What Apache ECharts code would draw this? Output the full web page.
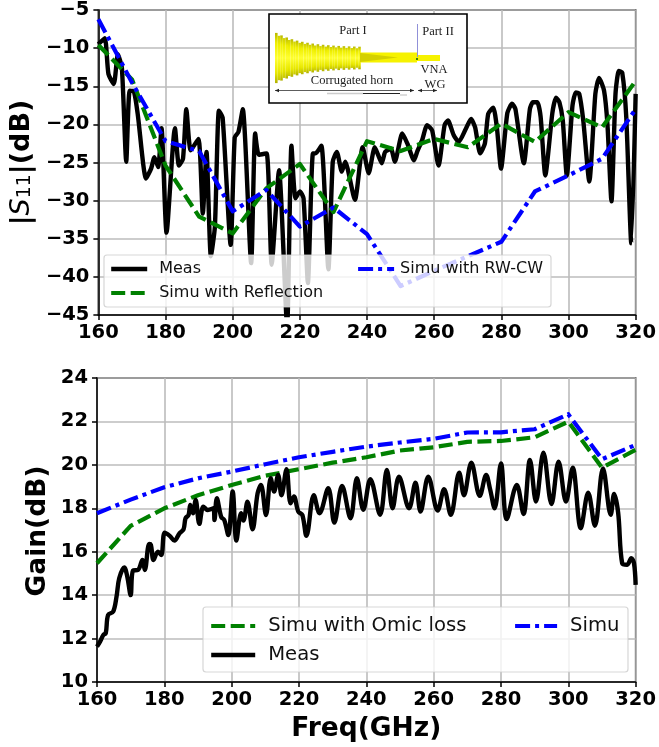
<!DOCTYPE html>
<html><head><meta charset="utf-8">
<style>html,body{margin:0;padding:0;background:#fff}#c{width:659px;height:747px}</style>
<script src="https://cdn.jsdelivr.net/npm/echarts@6/dist/echarts.min.js"></script></head>
<body><div id="c"></div>
<script>
const xTicks = [160,180,200,220,240,260,280,300,320];
const simFreq = [160,170,180,190,200,210,220,230,240,250,260,270,280,290,300,310,320];
const s11Reflection = [-9.6,-14.1,-25.4,-32.1,-34.3,-28.4,-25.2,-31.5,-22.2,-23.5,-21.9,-23,-19.9,-22.3,-18.4,-20.4,-14.3];
const s11RwCw = [-6.2,-14.5,-22.2,-23.5,-31.4,-28.6,-33.4,-30.9,-34.4,-41.2,-39.2,-37.3,-35.4,-28.8,-26.7,-24.5,-18];
const s11MeasFreq = [160,161.9,163,164.6,165.8,167,168.3,169.3,170.4,171.7,174.2,175.7,176.7,177.8,178.8,180.3,182.8,184,185.2,186.2,187.5,189.8,191.1,192.2,193.5,194.7,195.9,197,199.4,200.6,201.7,203,205.5,206.7,207.8,210.1,211.6,213.8,216.2,217.5,218.7,220,221.1,222.4,223.9,224.7,226.4,228.5,229.8,231,232.5,233.5,236.4,238.7,240.5,242.3,243.3,244.4,245.4,247.1,248.3,250.5,252,254,255,256.4,257.9,259.4,261.3,263.1,264.1,265.8,267.3,269.4,271,272.2,273.7,275.1,276.1,277.6,278.7,279.9,281.8,283.2,284.2,286.7,288.5,289.4,290.7,291.7,293.1,295.2,296.3,297.3,298.3,299.5,301.2,302.2,303.2,304.4,306.2,308,309.1,310.6,311.6,312.8,314,315,316,317.2,318.7,320];
const s11Meas = [-9.5,-8.7,-13.4,-14.7,-10.8,-12.6,-24.9,-15.6,-15.6,-18.6,-27.1,-25.8,-24.3,-25.6,-20.5,-34.2,-20.5,-25.4,-24.5,-18,-23.4,-21.9,-31.7,-23.6,-37.3,-33.4,-18.2,-19.1,-35.8,-21.7,-21,-18,-38.2,-21.2,-24,-23.8,-38.4,-26,-46.5,-22.8,-29.7,-28.8,-29.7,-40.8,-23.8,-23.8,-22.8,-39,-24.9,-23.6,-26.2,-24.9,-29.9,-23,-26.4,-23,-24,-25.1,-23.6,-23.2,-24.9,-21.2,-22.5,-24.7,-23.5,-22.1,-20.1,-20.8,-25.4,-20.1,-19.5,-21.4,-22.3,-20.6,-19.3,-20.4,-23.8,-22.5,-18.6,-17.8,-20.5,-25.8,-18.5,-17.3,-18,-25.1,-18,-17.1,-17.1,-19,-26.7,-18.5,-16.5,-17.1,-19.5,-26.7,-17.5,-15.8,-16,-19.5,-27.5,-16,-13.9,-15.6,-20,-30.1,-16,-13,-13.2,-19,-35.6,-16];
const gainOhmic = [15.47,17.19,18,18.6,19.07,19.5,19.8,20.1,20.35,20.66,20.81,21.06,21.1,21.27,21.99,19.87,20.69];
const gainSimu = [17.77,18.4,18.97,19.38,19.69,20.03,20.35,20.6,20.84,21.03,21.2,21.49,21.5,21.64,22.33,20.26,20.92];
const gainMeasFreq = [160,160.9,161.9,162.6,163.3,164.8,165.8,166.6,168.1,169,170,170.7,172.2,173.5,174.2,175.5,176,176.8,178.1,179.1,180.1,181.6,183,184.5,185.7,186.3,187.2,187.7,188.5,189.3,190.4,191.6,192.9,194.6,194.9,195.6,196.9,197.8,199,200.3,201.4,202.8,203.5,204.7,206.2,207.7,208.7,210.2,211.6,212.6,213.8,214.8,216.3,217.5,218.5,219.8,221,222.2,224.4,226.1,228.7,230.5,232.8,235.3,237.2,239.1,241.2,244.1,246.1,247.8,249.7,252.7,254.6,256.1,258.4,261.2,263.1,265.1,267.6,269,271.2,273.7,275.6,276.8,278.1,280,281.7,284.7,286.7,288.6,290.4,292.6,295,297.1,299.3,301.3,303.7,305.9,307.9,310.3,312.6,313.6,314.8,316,317.5,318.7,319.5,320];
const gainMeas = [11.63,11.86,12.17,12.25,13.09,13.24,13.93,14.78,15.28,14.85,14,15.13,15.16,15.62,15.16,16.36,16.32,15.62,16,15.85,16.88,16.73,16.51,16.85,17.03,17.54,17.69,18.15,17.77,18.38,17.28,18.07,17.92,18,17.46,18.46,17.6,17.46,16.77,18.77,16.51,17.77,17.43,18.3,17.03,18.69,19.07,17.69,19.38,18.77,19.53,18.6,19.8,18.23,18.54,17.85,17.69,16.73,18.6,17.77,18.92,17.34,19.03,17.54,19.38,17.93,19.34,17.7,19.77,18,19.46,18,19.18,17.85,19.46,17.9,18.88,17.7,19.64,18.6,20.1,18.57,19.54,18.85,18,20.07,17.5,19.08,17.74,20.23,18.31,20.56,18.2,20.15,18.31,19.87,17.08,18.72,17.19,19.84,17.7,18.66,17.8,15.47,15.4,15.7,15.47,14.47];

const zip = (xs, ys) => xs.map((x, i) => [x, ys[i]]);
const GREEN='#008000', BLUE='#0000ff', BLK='#000';
const bold = {fontFamily:'DejaVu Sans', fontWeight:'bold', fontSize:19.5, color:'#000'};
const gridLine = {show:true, lineStyle:{color:'#bcbcbc', width:1.6}};
const axisBits = {
  axisLine:{show:true, onZero:false, lineStyle:{color:'#000', width:1.5}},
  axisTick:{show:true, length:5, lineStyle:{color:'#000', width:1.5}},
  splitLine:gridLine
};
const xAxis = (gridIndex, extra) => Object.assign({
  type:'value', gridIndex, min:160, max:320, interval:20,
  axisLabel:Object.assign({margin:8, showMinLabel:true, showMaxLabel:true, hideOverlap:false}, bold)
}, axisBits, extra||{});
const yFmt = v => String(v).replace('-', '\u2212');
const line = (name, xi, data, color, width, dash, smooth) => ({
  name, type:'line', xAxisIndex:xi, yAxisIndex:xi, data, symbol:'none', showSymbol:false, clip:true,
  smooth:smooth||false,
  lineStyle:{color, width, type:dash||'solid', cap:'butt', join:'round'},
  itemStyle:{color}, animation:false
});
const dashed=[14,5.5], dashdot=[15,5,4,5];
const legendText = (size,pad) => ({fontFamily:'DejaVu Sans', fontSize:size, color:'#111', padding:[0,0,0,pad]});
const legendBase = {orient:'vertical', selectedMode:false, z:6, padding:[0,0,0,5], itemStyle:{opacity:0, color:'transparent', borderWidth:0}};
const styled = (name,color,width,type) => ({name, lineStyle:{color,width,type,cap:'butt',opacity:1}});

const opt = {
  animation:false,
  backgroundColor:'#fff',
  grid:[
    {left:97, right:21, top:9, height:306, show:true, borderColor:'#000', borderWidth:1.5, backgroundColor:'transparent'},
    {left:97, right:21, top:378, height:304, show:true, borderColor:'#000', borderWidth:1.5, backgroundColor:'transparent'}
  ],
  xAxis:[
    xAxis(0),
    xAxis(1,{name:'Freq(GHz)', nameLocation:'middle', nameGap:34, nameTextStyle:{fontFamily:'DejaVu Sans',fontWeight:'bold',fontSize:26.5,color:'#000'}})
  ],
  yAxis:[
    Object.assign({type:'value', gridIndex:0, min:-45, max:-5, interval:5,
      axisLabel:Object.assign({margin:9, formatter:yFmt, showMinLabel:true, showMaxLabel:true}, bold),
      name:'{a||}{b|S}{c|11}{a||(dB)}', nameLocation:'middle', nameRotate:90, nameGap:62,
      nameTextStyle:{rich:{
        a:{fontFamily:'DejaVu Sans',fontWeight:'bold',fontSize:27,color:'#000'},
        b:{fontFamily:'DejaVu Sans',fontStyle:'italic',fontSize:27,color:'#000'},
        c:{fontFamily:'DejaVu Sans',fontSize:19,color:'#000',verticalAlign:'bottom',lineHeight:24}
      }}
    }, axisBits),
    Object.assign({type:'value', gridIndex:1, min:10, max:24, interval:2,
      axisLabel:Object.assign({margin:9, showMinLabel:true, showMaxLabel:true}, bold)
    }, axisBits)
  ],
  legend:[
    Object.assign({},legendBase,{left:104, top:261, itemWidth:36, itemHeight:14, itemGap:8, textStyle:legendText(16,7),
      data:[styled('Meas',BLK,4.4,'solid'),styled('Simu with Reflection',GREEN,4.2,dashed)]}),
    Object.assign({},legendBase,{left:351, top:261, itemWidth:36, itemHeight:14, textStyle:legendText(16,1),
      data:[styled('Simu with RW-CW',BLUE,4.2,dashdot)]}),
    Object.assign({},legendBase,{left:204, top:616, itemWidth:44, itemHeight:16, itemGap:9, textStyle:legendText(19.6,8),
      data:[styled('Simu with Omic loss',GREEN,4.2,dashed),styled('Meas',BLK,4.4,'solid')]}),
    Object.assign({},legendBase,{left:508, top:616, itemWidth:42, itemHeight:16, textStyle:legendText(19.6,8),
      data:[styled('Simu',BLUE,4.2,dashdot)]})
  ],
  series:[
    line('Meas',0,zip(s11MeasFreq,s11Meas),BLK,4.4,null,0.2),
    line('Simu with Reflection',0,zip(simFreq,s11Reflection),GREEN,4.2,dashed),
    line('Simu with RW-CW',0,zip(simFreq,s11RwCw),BLUE,4.2,dashdot),
    line('Simu with Omic loss',1,zip(simFreq,gainOhmic),GREEN,4.2,dashed),
    line('Meas',1,zip(gainMeasFreq,gainMeas),BLK,4.4,null,0.35),
    line('Simu',1,zip(simFreq,gainSimu),BLUE,4.2,dashdot)
  ],
  graphic:[]
};

/* y title of the lower panel */
opt.graphic.push({type:'text', z:6, x:38, y:531, rotation:Math.PI/2,
  style:{text:'Gain(dB)', fontFamily:'DejaVu Sans', fontWeight:'bold', fontSize:26.5, fill:'#000', textAlign:'center', textVerticalAlign:'middle'}});

/* legend frames */
const frame = (x,y,w,h) => ({type:'rect', z:5, shape:{x,y,width:w,height:h,r:3},
  style:{fill:'rgba(255,255,255,0.8)', stroke:'rgba(204,204,204,0.8)', lineWidth:1.2}, silent:true});
opt.graphic.push(frame(104,255,447,52), frame(203,607,425,65));

/* inset illustration */
const inset = [];
inset.push({type:'rect', z:10, shape:{x:269,y:14,width:198,height:89}, style:{fill:'#fff',stroke:'#000',lineWidth:1.6}});
const cy = 58;
for (let i=0, x=275; x<360; i++, x+=2.6) {
  const t=(x-275)/85;
  const hw = 9+14.5*Math.exp(-t*3)*(1-t*0.1)+(i%2?0:1.6);
  inset.push({type:'rect', z:11, shape:{x,y:cy-hw,width:2.6,height:2*hw},
    style:{fill:new echarts.graphic.LinearGradient(0,0,0,1,[
      {offset:0,color:i%2?'#d0d000':'#b8b800'},{offset:0.2,color:'#efef00'},{offset:0.5,color:'#ffff30'},{offset:0.8,color:'#e8e800'},{offset:1,color:i%2?'#c8c800':'#b0b000'}])}});
}
inset.push({type:'polygon', z:11, shape:{points:[[360,52.5],[417,52.5],[417,62.5],[360,62.5]]}, style:{fill:'#f6f200'}});
inset.push({type:'polygon', z:11, shape:{points:[[360,53],[398,57.5],[360,62]]}, style:{fill:'#d4d000'}});
inset.push({type:'polygon', z:11, shape:{points:[[417,55],[440,55],[440,61],[417,61]]}, style:{fill:'#f6f200'}});
inset.push({type:'line', z:12, shape:{x1:417.5,y1:24,x2:417.5,y2:57}, style:{stroke:'#9090d8',lineWidth:1}});
inset.push({type:'circle', z:12, shape:{cx:417,cy:59,r:1}, style:{fill:'#006000'}});
const serif = (text,x,y,s) => ({type:'text', z:12, x, y, style:{text, fontFamily:'Liberation Serif', fontSize:s||12.5, fill:'#222', textAlign:'center', textVerticalAlign:'middle'}});
inset.push(serif('Part I',353,31), serif('Part II',438,32), serif('VNA',434,70), serif('WG',435,85), serif('Corrugated horn',352,81,12.5));
const hline = (x1,x2,y,c,w) => ({type:'line', z:12, shape:{x1,y1:y,x2,y2:y}, style:{stroke:c,lineWidth:w}});
inset.push(hline(275,414,90.5,'#333',0.8), hline(418,437,90.5,'#333',0.8));
const arrow = (x,dir) => ({type:'polygon', z:12, shape:{points:[[x,90.5],[x+dir*4,88.7],[x+dir*4,92.3]]}, style:{fill:'#222'}});
inset.push(arrow(275,1),arrow(414,-1),arrow(418,1),arrow(437,-1));
inset.push(hline(327,363,93.5,'#ccc',1.6), hline(363,400,93.5,'#222',1.2), hline(400,407,95,'#bbb',1));
opt.graphic.push(...inset);

const chart = echarts.init(document.getElementById('c'), null, {renderer:'canvas'});
chart.setOption(opt);
</script></body></html>
